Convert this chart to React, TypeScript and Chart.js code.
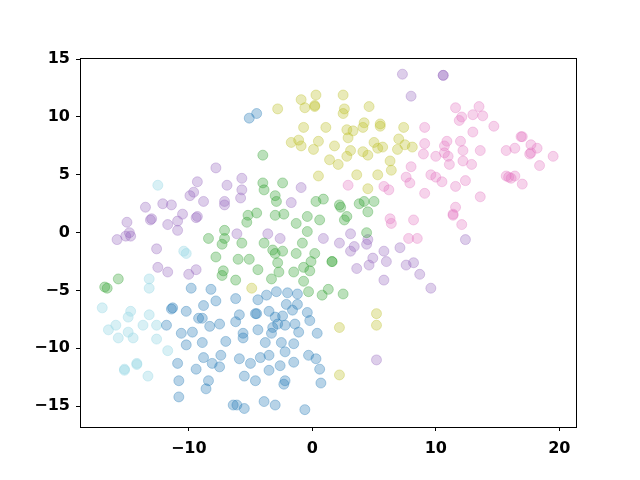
import React, { useEffect, useRef } from "react";
import { Chart, registerables } from "chart.js";

Chart.register(...registerables);

const xTickValues = [-10, 0, 10, 20];
const yTickValues = [-15, -10, -5, 0, 5, 10, 15];

const bluePoints: [number, number][] = [
  [-5.1, 9.9], [-4.5, 10.3], [-9.8, -4.8], [-8.2, -4.9], [-11.3, -6.5], [-11.4, -6.6], [-10.2, -6.8],
  [-8.8, -6.3], [-7.8, -5.9], [-6.2, -5.7], [-9.2, -7.4], [-8.9, -7.4], [-5.9, -7.1], [-6.2, -7.7],
  [-11.8, -8.0], [-10.6, -8.7], [-9.7, -8.6], [-8.3, -8.1], [-7.5, -7.9], [-5.6, -8.7], [-5.6, -9.1],
  [-10.2, -9.7], [-8.9, -9.5], [-7.0, -9.4], [-8.8, -10.8], [-7.4, -10.6], [-10.9, -11.3], [-8.1, -11.3],
  [-7.5, -11.6], [-5.9, -10.9], [-5.0, -11.3], [-9.4, -11.8], [-10.8, -12.8], [-8.4, -12.8], [-8.6, -13.5],
  [-5.5, -12.4], [-10.8, -14.2], [-6.4, -14.9], [-6.1, -14.9], [-5.5, -15.2], [-2.9, -5.1], [-2.0, -5.2],
  [-1.2, -5.3], [-3.7, -5.4], [-4.4, -5.8], [-2.1, -6.2], [-1.2, -6.2], [-4.5, -7.0], [-4.6, -7.0],
  [-3.5, -6.8], [-3.0, -7.3], [-2.4, -7.2], [-1.6, -6.7], [-0.4, -6.9], [-0.2, -7.6], [-2.8, -7.9],
  [-3.2, -8.2], [-3.3, -8.7], [-2.2, -8.0], [-1.4, -7.9], [-1.1, -8.6], [-4.4, -8.4], [0.4, -8.7],
  [-3.8, -9.5], [-2.5, -9.5], [-1.5, -9.6], [-2.2, -10.3], [-4.2, -10.8], [-3.5, -10.6], [-2.6, -11.5],
  [-1.5, -11.2], [-0.3, -10.6], [0.3, -10.9], [0.6, -11.8], [-3.5, -11.9], [-4.6, -12.8], [-2.2, -12.8],
  [-2.3, -13.1], [0.7, -13.0], [-3.9, -14.6], [-3.0, -14.9], [-0.6, -15.3],
];

const cyanPoints: [number, number][] = [
  [-12.5, 4.1], [-10.4, -1.6], [-10.2, -1.8], [-13.2, -4.0], [-13.2, -4.8], [-17.0, -6.5], [-14.7, -6.8],
  [-14.9, -7.3], [-13.2, -7.1], [-15.9, -8.0], [-16.5, -8.4], [-15.7, -9.1], [-14.9, -8.6], [-14.5, -9.1],
  [-13.7, -8.0], [-12.6, -8.0], [-12.6, -9.2], [-11.7, -10.2], [-14.2, -11.3], [-14.2, -11.4],
  [-15.2, -11.9], [-15.2, -11.8], [-13.3, -12.4],
];

const purplePoints: [number, number][] = [
  [-7.8, 5.6], [-9.3, 4.4], [-6.9, 4.1], [-5.7, 4.7], [-5.7, 3.7], [-5.8, 3.0], [-9.6, 3.5], [-9.9, 3.2],
  [-8.8, 2.7], [-7.1, 2.7], [-7.1, 2.4], [-13.5, 2.2], [-12.1, 2.5], [-11.4, 2.4], [-10.5, 1.6],
  [-13.1, 1.1], [-13.0, 1.2], [-9.3, 1.4], [-9.4, 1.3], [-11.7, 0.7], [-10.9, 1.0], [-10.9, 0.2],
  [-15.0, 0.9], [-14.8, 0.0], [-14.7, -0.3], [-15.1, -0.3], [-15.8, -0.6], [-12.6, -1.4], [-6.1, -0.1],
  [-12.5, -3.0], [-11.7, -3.4], [-10.0, -3.6], [-9.4, -3.2], [0.9, -0.5], [2.2, -0.9], [3.4, -1.2],
  [3.1, -1.6], [4.5, -0.6], [4.4, -1.0], [4.9, -2.2], [4.6, -2.8], [5.8, -1.6], [6.0, -2.5], [7.1, -1.3],
  [7.6, -2.8], [8.2, -2.6], [3.6, -3.1], [5.8, -4.1], [5.2, -11.0], [7.3, 13.7], [8.0, 11.8],
  [10.6, 13.6], [10.6, 13.6], [-0.9, 3.9], [-1.7, 2.6], [-3.6, -0.1], [-2.6, -0.5], [3.1, -0.1],
  [12.4, -0.6], [8.7, -3.6], [9.6, -4.8],
];

const olivePoints: [number, number][] = [
  [0.3, 11.9], [2.5, 11.9], [-0.9, 11.5], [-0.6, 10.8], [0.2, 11.0], [0.2, 10.9], [-2.8, 10.7],
  [2.6, 10.7], [2.5, 10.3], [4.6, 10.9], [-0.7, 9.1], [1.1, 9.1], [2.8, 8.9], [3.3, 8.8], [2.9, 8.2],
  [4.1, 9.1], [4.2, 9.5], [5.5, 9.4], [5.5, 9.2], [7.4, 9.1], [-1.7, 7.8], [-1.1, 8.0], [-0.9, 7.5],
  [0.5, 7.9], [0.1, 7.2], [1.8, 7.5], [3.1, 7.1], [2.8, 6.6], [4.1, 7.0], [4.5, 6.7], [5.0, 7.8],
  [5.3, 7.3], [5.7, 7.4], [7.0, 8.1], [6.9, 7.2], [7.5, 7.6], [8.1, 7.4], [1.4, 6.3], [2.1, 5.9],
  [6.3, 6.2], [6.4, 5.4], [0.5, 4.9], [3.6, 5.0], [5.3, 5.0], [4.5, 3.8], [-4.9, -4.8], [2.2, -8.2],
  [5.2, -7.0], [5.2, -8.0], [2.2, -12.3],
];

const greenPoints: [number, number][] = [
  [-4.0, 6.7], [-4.0, 4.3], [-3.9, 3.7], [-2.4, 4.3], [-3.0, 3.2], [-2.9, 2.7], [-5.2, 1.5], [-5.3, 0.9],
  [-4.5, 1.7], [-3.0, 1.5], [-2.3, 1.6], [0.3, 2.7], [0.9, 2.9], [2.2, 2.4], [2.3, 2.2], [3.8, 2.5],
  [4.2, 2.7], [5.0, 2.7], [4.5, 1.8], [2.8, 1.4], [2.6, 1.1], [-0.4, 1.4], [0.6, 1.1], [-1.3, 0.8],
  [-0.4, 0.1], [-0.8, -0.9], [-3.9, -0.9], [-3.2, -1.5], [4.4, 0.0], [-7.1, 0.2], [-7.1, -0.5],
  [-8.4, -0.5], [-7.3, -1.0], [-5.7, -0.9], [-7.8, -2.1], [-6.0, -2.3], [-5.1, -2.3], [-7.2, -3.3],
  [-7.3, -3.7], [-6.2, -4.1], [-15.7, -4.0], [-16.8, -4.7], [-16.6, -4.8], [-3.0, -1.8], [-2.4, -1.6],
  [-1.3, -1.8], [0.2, -1.8], [-4.4, -3.2], [-2.8, -2.6], [-2.7, -3.4], [-3.3, -4.0], [-1.5, -3.4],
  [-0.1, -2.5], [-0.7, -3.0], [-0.2, -3.3], [-0.7, -4.2], [1.6, -2.5], [1.6, -2.5], [-0.3, -5.1],
  [0.8, -5.4], [1.3, -4.9], [2.5, -5.3],
];

const pinkPoints: [number, number][] = [
  [8.0, 5.7], [7.6, 4.8], [7.9, 4.3], [2.9, 4.1], [5.8, 4.0], [6.2, 3.7], [6.3, 1.2], [6.4, 0.8],
  [8.2, 1.1], [7.8, -0.5], [8.5, -0.5], [11.6, 10.8], [13.5, 10.9], [11.9, 9.7], [12.1, 10.0],
  [13.0, 10.2], [13.8, 10.1], [14.7, 9.2], [9.1, 9.1], [13.0, 8.7], [17.0, 8.3], [16.9, 8.3], [9.1, 7.7],
  [9.0, 6.8], [10.9, 7.9], [10.7, 7.5], [10.7, 6.9], [11.0, 6.6], [11.1, 5.9], [10.0, 6.6], [12.0, 7.9],
  [12.2, 7.1], [12.2, 6.2], [12.9, 5.9], [13.6, 7.1], [15.7, 7.1], [16.4, 7.3], [17.7, 7.6], [18.2, 7.3],
  [17.6, 6.8], [17.7, 6.9], [19.5, 6.6], [18.4, 5.8], [9.6, 5.0], [10.0, 4.8], [10.5, 4.4], [11.6, 4.0],
  [12.4, 4.5], [15.7, 4.9], [15.9, 4.8], [16.4, 4.9], [16.1, 4.7], [17.0, 4.2], [9.1, 3.4], [13.6, 3.1],
  [11.6, 2.2], [11.4, 1.6], [11.4, 1.5], [12.1, 0.7],
];

const seriesList = [
  { name: "0", points: bluePoints, color: "31,119,180", alpha: 0.32 },
  { name: "1", points: greenPoints, color: "44,160,44", alpha: 0.32 },
  { name: "2", points: purplePoints, color: "148,103,189", alpha: 0.32 },
  { name: "3", points: olivePoints, color: "188,189,34", alpha: 0.32 },
  { name: "4", points: pinkPoints, color: "227,119,194", alpha: 0.32 },
  { name: "5", points: cyanPoints, color: "158,218,229", alpha: 0.4 },
];

const fmt = (v: number) => String(v).replace("-", "\u2212");

const framePlugin = {
  id: "frame",
  afterDraw(chart: any) {
    const { ctx, chartArea } = chart;
    ctx.save();
    ctx.strokeStyle = "#000";
    ctx.lineWidth = 1;
    ctx.strokeRect(
      Math.round(chartArea.left) + 0.5,
      Math.round(chartArea.top) + 0.5,
      Math.round(chartArea.right - chartArea.left),
      Math.round(chartArea.bottom - chartArea.top)
    );
    ctx.restore();
  },
};

export default function App() {
  const ref = useRef<HTMLCanvasElement | null>(null);
  useEffect(() => {
    if (!ref.current) return;
    const tickFont = { family: "'DejaVu Sans'", size: 16, weight: "bold" as const };
    const chart = new Chart(ref.current, {
      type: "scatter",
      data: {
        datasets: seriesList.map((s) => ({
          label: s.name,
          data: s.points.map(([x, y]) => ({ x, y })),
          backgroundColor: `rgba(${s.color},${s.alpha})`,
          borderColor: `rgba(${s.color},${s.alpha})`,
          borderWidth: 1,
          pointRadius: 5,
        })),
      },
      options: {
        responsive: false,
        animation: false,
        layout: { padding: { left: 0, right: 64, top: 58, bottom: 0 } },
        plugins: { legend: { display: false }, tooltip: { enabled: false } },
        scales: {
          x: {
            type: "linear",
            min: -18.8,
            max: 21.35,
            afterBuildTicks: (scale: any) => {
              scale.ticks = xTickValues.map((v) => ({ value: v }));
            },
            afterFit: (scale: any) => {
              scale.height = 53;
            },
            grid: { display: true, drawOnChartArea: false, drawTicks: true, tickLength: 4, color: "#000" },
            border: { display: true, color: "#000", width: 1 },
            ticks: { color: "#000", font: tickFont, padding: 8, maxRotation: 0, callback: (v: any) => fmt(v) },
          },
          y: {
            type: "linear",
            min: -16.8,
            max: 15.1,
            afterBuildTicks: (scale: any) => {
              scale.ticks = yTickValues.map((v) => ({ value: v }));
            },
            afterFit: (scale: any) => {
              scale.width = 80;
            },
            grid: { display: true, drawOnChartArea: false, drawTicks: true, tickLength: 4, color: "#000" },
            border: { display: true, color: "#000", width: 1 },
            ticks: { color: "#000", font: tickFont, padding: 6, callback: (v: any) => fmt(v) },
          },
        },
      },
      plugins: [framePlugin],
    });
    return () => chart.destroy();
  }, []);
  return (
    <div style={{ position: "fixed", left: 0, top: 0, width: 640, height: 480, background: "#fff" }}>
      <canvas ref={ref} width={640} height={480} style={{ width: 640, height: 480, display: "block" }} />
    </div>
  );
}
